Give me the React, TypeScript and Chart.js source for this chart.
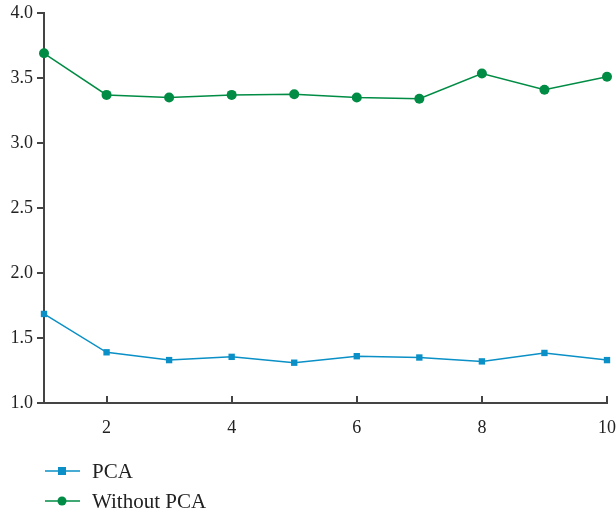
import React, { useEffect, useRef } from "react";
import { Chart, registerables } from "chart.js";

Chart.register(...registerables);

const xValues = [1, 2, 3, 4, 5, 6, 7, 8, 9, 10];
const pcaValues = [1.685, 1.39, 1.33, 1.355, 1.31, 1.36, 1.35, 1.32, 1.385, 1.33];
const withoutPcaValues = [3.69, 3.37, 3.35, 3.37, 3.375, 3.35, 3.34, 3.535, 3.41, 3.51];
const xTickValues = [2, 4, 6, 8, 10];
const yTickValues = [1.0, 1.5, 2.0, 2.5, 3.0, 3.5, 4.0];
const seriesNames = ["PCA", "Without PCA"];

const BLUE = "#0a90c6";
const GREEN = "#008c44";
const AXIS = "#444444";
const FONT = "'Liberation Serif', 'Times New Roman', serif";

export default function App() {
  const ref = useRef<HTMLCanvasElement | null>(null);

  useEffect(() => {
    document.body.style.margin = "0";
    const canvas = ref.current;
    if (!canvas) return;

    const tickMarks = {
      id: "tickMarks",
      afterDraw(chart: any) {
        const ctx = chart.ctx;
        const xs = chart.scales.x;
        const ys = chart.scales.y;
        const area = chart.chartArea;
        ctx.save();
        ctx.strokeStyle = AXIS;
        ctx.lineWidth = 2;
        xTickValues.forEach((v) => {
          const px = Math.round(xs.getPixelForValue(v));
          ctx.beginPath();
          ctx.moveTo(px, area.bottom);
          ctx.lineTo(px, area.bottom - 7);
          ctx.stroke();
        });
        yTickValues.forEach((v) => {
          const py = Math.round(ys.getPixelForValue(v));
          ctx.beginPath();
          ctx.moveTo(area.left, py);
          ctx.lineTo(area.left - 7, py);
          ctx.stroke();
        });
        // legend
        const items = [
          { label: seriesNames[0], color: BLUE, style: "rect" },
          { label: seriesNames[1], color: GREEN, style: "circle" },
        ];
        const ys0 = [471, 501];
        ctx.font = `21px ${FONT}`;
        ctx.textBaseline = "middle";
        items.forEach((it, i) => {
          const y = ys0[i];
          ctx.strokeStyle = it.color;
          ctx.lineWidth = 1.5;
          ctx.beginPath();
          ctx.moveTo(45, y);
          ctx.lineTo(80, y);
          ctx.stroke();
          ctx.fillStyle = it.color;
          if (it.style === "rect") {
            ctx.fillRect(62 - 4, y - 4, 8, 8);
          } else {
            ctx.beginPath();
            ctx.arc(62, y, 4.5, 0, Math.PI * 2);
            ctx.fill();
          }
          ctx.fillStyle = "#222";
          ctx.textAlign = "left";
          ctx.fillText(it.label, 92, y + 1);
        });
        ctx.restore();
      },
    };

    const chart = new Chart(canvas, {
      type: "line",
      data: {
        datasets: [
          {
            label: seriesNames[0],
            data: xValues.map((x, i) => ({ x, y: pcaValues[i] })),
            borderColor: BLUE,
            backgroundColor: BLUE,
            borderWidth: 1.5,
            pointStyle: "rect",
            pointRadius: 4.5,
            pointBorderWidth: 0,
            tension: 0,
          },
          {
            label: seriesNames[1],
            data: xValues.map((x, i) => ({ x, y: withoutPcaValues[i] })),
            borderColor: GREEN,
            backgroundColor: GREEN,
            borderWidth: 1.5,
            pointStyle: "circle",
            pointRadius: 5,
            pointBorderWidth: 0,
            tension: 0,
          },
        ],
      },
      options: {
        animation: false,
        responsive: false,
        devicePixelRatio: 1,
        clip: false as any,
        layout: { padding: { top: 13, right: 9, bottom: 0, left: 0 } },
        plugins: { legend: { display: false }, tooltip: { enabled: false } },
        scales: {
          x: {
            type: "linear",
            min: 1,
            max: 10,
            afterBuildTicks: (s: any) => {
              s.ticks = xTickValues.map((v) => ({ value: v }));
            },
            afterFit: (s: any) => {
              s.height = 109;
              s.paddingLeft = 0;
              s.paddingRight = 0;
            },
            grid: { display: false, drawTicks: false },
            border: { display: true, color: AXIS, width: 2 },
            ticks: {
              padding: 14,
              color: "#222",
              font: { family: FONT, size: 18 },
              maxRotation: 0,
            },
          },
          y: {
            type: "linear",
            min: 1,
            max: 4,
            afterBuildTicks: (s: any) => {
              s.ticks = yTickValues.map((v) => ({ value: v }));
            },
            afterFit: (s: any) => {
              s.width = 44;
              s.paddingTop = 0;
              s.paddingBottom = 0;
            },
            grid: { display: false, drawTicks: false },
            border: { display: true, color: AXIS, width: 2 },
            ticks: {
              padding: 11,
              color: "#222",
              font: { family: FONT, size: 18 },
              callback: (v: any) => Number(v).toFixed(1),
            },
          },
        },
      },
      plugins: [tickMarks],
    });
    return () => chart.destroy();
  }, []);

  return (
    <div style={{ position: "absolute", left: 0, top: 0, width: 616, height: 512 }}>
      <canvas ref={ref} width={616} height={512} style={{ width: 616, height: 512 }} />
    </div>
  );
}
